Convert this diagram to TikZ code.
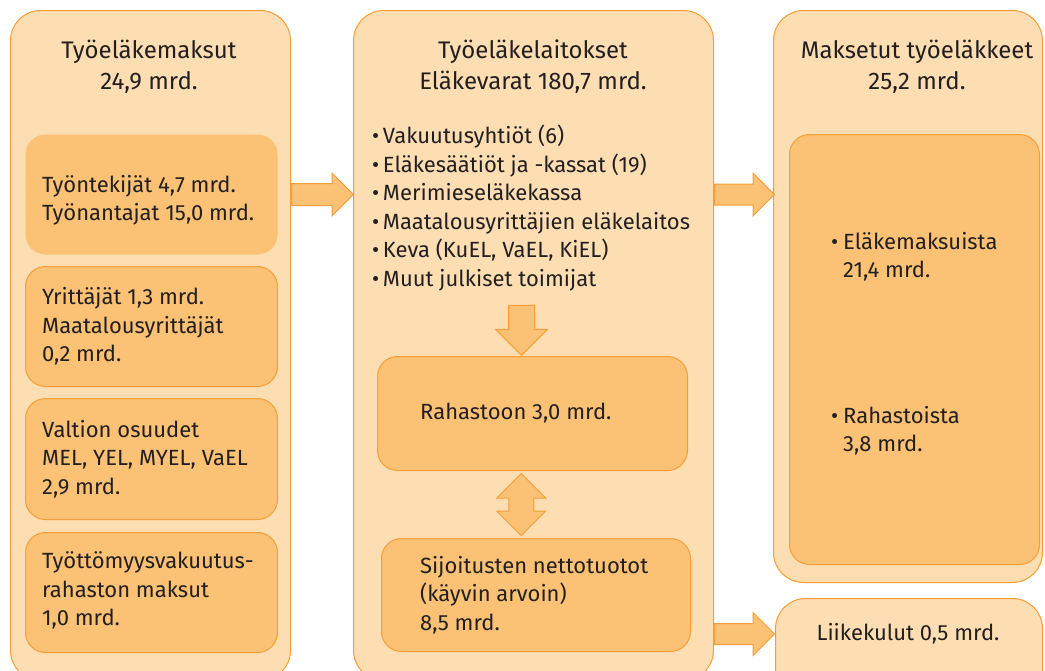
\documentclass[tikz,border=0pt]{standalone}
\usepackage{fontspec}
\setmainfont{Fira Sans}
\usetikzlibrary{positioning,calc,shapes.arrows}
\definecolor{peach}{RGB}{253,221,178}
\definecolor{apricot}{RGB}{251,193,116}
\definecolor{edgeorange}{RGB}{246,158,56}
\definecolor{inkgray}{RGB}{35,31,32}
\tikzset{
	every node/.style={font=\fontsize{22}{28.5}\selectfont,text=inkgray,inner sep=0pt},
	column box/.style={rectangle,rounded corners=30pt,fill=peach,draw=edgeorange,line width=1pt,anchor=north west},
	part box/.style={rectangle,rounded corners=20pt,fill=apricot,draw=edgeorange,line width=1pt,anchor=north west},
	head text/.style={font=\fontsize{24}{31}\selectfont,align=center,anchor=north},
	item text/.style={align=left},
	flow arrow/.style={single arrow,fill=apricot,draw=edgeorange,line width=1pt,single arrow head extend=#1},
	swap arrow/.style={double arrow,fill=apricot,draw=edgeorange,line width=1pt,double arrow head extend=#1}
}

\begin{document}
\begin{tikzpicture}[x=1pt,y=-1pt]
	\useasboundingbox (0,0) rectangle (1045,670);
	% columns
	\node[column box,minimum width=280pt,minimum height=670pt] (pay) at (10,10) {};
	\node[column box,minimum width=360pt,minimum height=670pt] (inst) at (353,10) {};
	\node[column box,minimum width=269pt,minimum height=572pt] (paid) at (773,10) {};
	\node[column box,minimum width=267pt,minimum height=110pt] (cost) at (775,598) {};
	% titles
	\node[head text] (payt) at (149,40) {Työeläkemaksut\\24,9 mrd.};
	\node[head text] (instt) at (533,40) {Työeläkelaitokset\\Eläkevarat 180,7 mrd.};
	\node[head text] (paidt) at (917,40) {Maksetut työeläkkeet\\25,2 mrd.};
	% contributions
	\node[part box,draw=none,minimum width=252pt,minimum height=120pt] (emp) at (25,134) {};
	\node[part box,minimum width=252pt,minimum height=120pt,below=11pt of emp] (self) {};
	\node[part box,minimum width=252pt,minimum height=121pt,below=11pt of self] (state) {};
	\node[part box,minimum width=252pt,minimum height=120pt,below=12pt of state] (unemp) {};
	\node[item text,right=17pt of emp.west,yshift=-6pt] (empt) {Työntekijät 4,7 mrd.\\Työnantajat 15,0 mrd.};
	\node[item text,right=17pt of self.west] (selft) {Yrittäjät 1,3 mrd.\\Maatalousyrittäjät\\0,2 mrd.};
	\node[item text,right=17pt of state.west] (statet) {Valtion osuudet\\MEL, YEL, MYEL, VaEL\\2,9 mrd.};
	\node[item text,right=17pt of unemp.west,yshift=2pt] (unempt) {Työttömyysvakuutus-\\rahaston maksut\\1,0 mrd.};
	% institutions
	\node[item text,anchor=north west] (instl) at (372,125) {•\,Vakuutusyhtiöt (6)\\•\,Eläkesäätiöt ja -kassat (19)\\•\,Merimieseläkekassa\\•\,Maatalousyrittäjien eläkelaitos\\•\,Keva (KuEL, VaEL, KiEL)\\•\,Muut julkiset toimijat};
	\node[part box,minimum width=310pt,minimum height=114pt] (fund) at (377,356) {};
	\node[part box,minimum width=309pt,minimum height=113pt] (yield) at (381,538) {};
	\node[item text,right=43pt of fund.west] (fundt) {Rahastoon 3,0 mrd.};
	\node[item text,right=39pt of yield.west] (yieldt) {Sijoitusten nettotuotot\\(käyvin arvoin)\\8,5 mrd.};
	% pensions paid
	\node[part box,minimum width=250pt,minimum height=430pt] (paidp) at (789,134) {};
	\node[item text,anchor=north west] (fromfees) at (843,232) {\llap{•\hspace{5pt}}Eläkemaksuista\\21,4 mrd.};
	\node[item text,anchor=north west] (fromfunds) at (843,406) {\llap{•\hspace{5pt}}Rahastoista\\3,8 mrd.};
	\node (costt) at (908,634) {Liikekulut 0,5 mrd.};
	% flows
	\node[flow arrow=10.5pt,inner ysep=10.5pt,minimum height=62pt,anchor=tail] (a1) at (pay.east |- emp) {};
	\node[flow arrow=11pt,inner ysep=10pt,minimum height=60pt,anchor=tail] (a2) at (inst.east |- emp) {};
	\node[flow arrow=11pt,inner ysep=10pt,minimum height=60pt,anchor=tail] (a3) at (inst.east |- costt) {};
	\node[flow arrow=13pt,inner ysep=12.5pt,minimum height=50pt,rotate=-90,anchor=tip] (a4) at ($(fund.north)+(-11,0)$) {};
	\node[swap arrow=12pt,inner ysep=12pt,minimum height=62pt,rotate=90] (a5) at ($(fund.south)!0.5!(yield.north)+(-13,0)$) {};
\end{tikzpicture}
\end{document}
